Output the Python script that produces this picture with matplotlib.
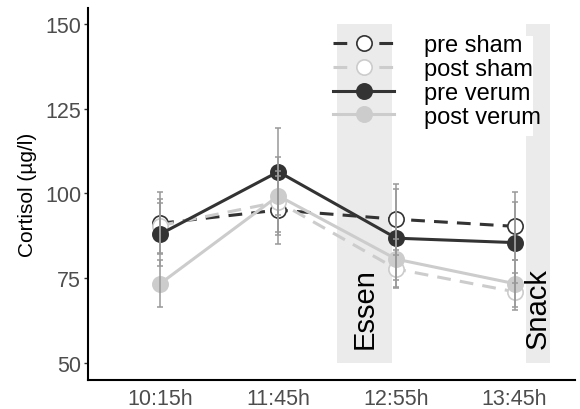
import matplotlib
matplotlib.use("Agg")
import matplotlib.pyplot as plt
import numpy as np
from matplotlib.patches import Rectangle

plt.rcParams['font.family'] = ['Liberation Sans', 'DejaVu Sans']

# Sampling times
times = ["10:15h", "11:45h", "12:55h", "13:45h"]

# Mean cortisol (µg/l) and standard deviation per condition
pre_sham = [91.2, 95.1, 92.4, 90.3]
pre_sham_sd = [9.1, 10.0, 10.5, 10.0]
post_sham = [90.5, 97.5, 77.7, 71.0]
post_sham_sd = [8.0, 9.0, 5.5, 5.5]
pre_verum = [88.0, 106.4, 86.8, 85.5]
pre_verum_sd = [9.3, 12.8, 14.5, 12.0]
post_verum = [73.4, 99.3, 80.6, 73.4]
post_verum_sd = [7.0, 11.5, 6.0, 7.0]

labels = ["pre sham", "post sham", "pre verum", "post verum"]
y_ticks = [50, 75, 100, 125, 150]

# Meal periods shown as shaded bands
meals = ["Essen", "Snack"]
meal_start = [2.5, 4.1]
meal_end = [2.96, 4.3]
band_low, band_high = 50, 150

dark = "#333333"
light = "#cccccc"
err_col = "#999999"

fig = plt.figure(figsize=(5.8, 4.1), dpi=100)
ax = fig.add_axes([0.152, 0.071, 0.839, 0.907])
x = np.arange(1, len(times) + 1)

for s, e, name in zip(meal_start, meal_end, meals):
    ax.add_patch(Rectangle((s, band_low), e - s, band_high - band_low,
                           facecolor="#ebebeb", edgecolor="none", zorder=0))
    ax.text((s + e) / 2, band_low + 4.5, name, rotation=90, ha="center",
            va="bottom", fontsize=21, color="black", zorder=1)

# white strip beside the legend text
ax.add_patch(Rectangle((0.898, 0.656), 0.016, 0.269, transform=ax.transAxes,
                       facecolor="white", edgecolor="none", zorder=1))

series = [
    (pre_sham, pre_sham_sd, dark, "white", (0, (4.5, 3))),
    (post_sham, post_sham_sd, light, "white", (0, (4.5, 3))),
    (pre_verum, pre_verum_sd, dark, dark, "-"),
    (post_verum, post_verum_sd, light, light, "-"),
]

handles = []
for i, (vals, sd, col, face, ls) in enumerate(series):
    ln, = ax.plot(x, vals, color=col, ls=ls, lw=2.2, marker="o", ms=11,
                  mfc=face, mec=col, mew=1.2, zorder=2 + i)
    handles.append(ln)
    ax.errorbar(x, vals, yerr=sd, fmt="none", ecolor=err_col,
                elinewidth=1.1, capsize=2.5, capthick=1.1, zorder=8)

ax.legend(handles, labels, loc="upper left", bbox_to_anchor=(0.503, 0.93),
          frameon=False, fontsize=17, handlelength=2.6, handletextpad=1.25,
          labelspacing=0.08, borderpad=0, borderaxespad=0)

ax.set_xlim(0.39, 4.51)
ax.set_ylim(45.0, 154.7)
ax.set_xticks(x)
ax.set_xticklabels(times)
ax.set_yticks(y_ticks)
ax.tick_params(axis="x", length=0, labelsize=15.5, labelcolor="#4d4d4d", pad=6)
ax.tick_params(axis="y", length=3, width=1, color="#333333", labelsize=15.5,
               labelcolor="#4d4d4d", pad=2)
ax.set_ylabel("Cortisol (µg/l)", fontsize=15, color="black", labelpad=6)

for side in ["top", "right"]:
    ax.spines[side].set_visible(False)
for side in ["left", "bottom"]:
    ax.spines[side].set_linewidth(1.5)
    ax.spines[side].set_color("black")

fig.savefig("out.png", dpi=100)
